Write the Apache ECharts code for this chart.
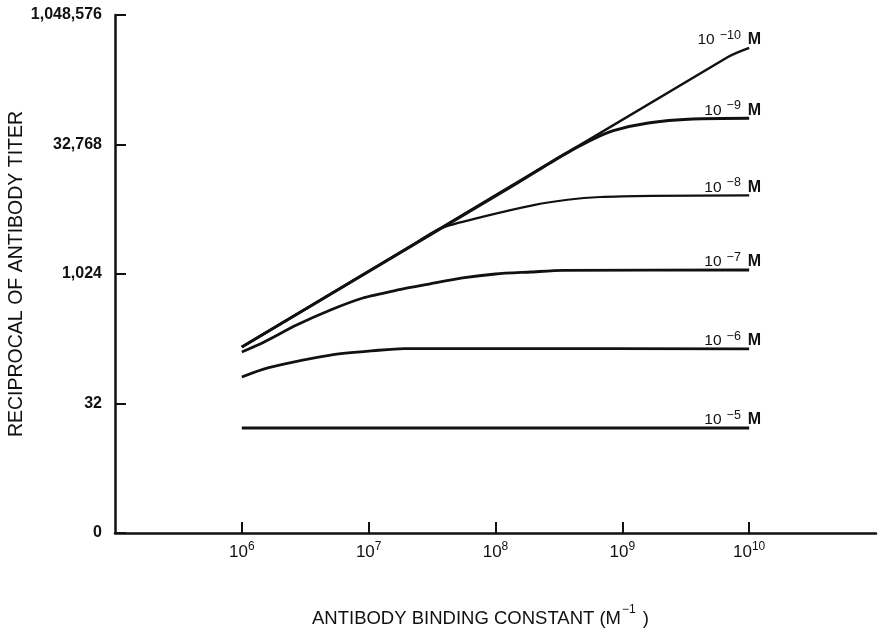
<!DOCTYPE html>
<html>
<head>
<meta charset="utf-8">
<script src="https://cdn.jsdelivr.net/npm/echarts@6/dist/echarts.min.js"></script>
<style>
  html, body { margin: 0; padding: 0; background: #fff; }
  #main { width: 878px; height: 631px; }
</style>
</head>
<body>
<div id="main"></div>
<script>
// antigen concentration of each curve (exponent of 10, M)
const concExp = ['−10', '−9', '−8', '−7', '−6', '−5'];

// [antibody binding constant (M^-1), reciprocal of antibody titer]
const curveM10 = [[1e6, 145], [6.8e9, 341000], [1e10, 435000]];
const curveM9 = [[1e6, 145], [1.5e8, 11800], [3.2e8, 23400], [5.6e8, 36500], [8.5e8, 47500], [1.6e9, 58300], [3.6e9, 64700], [1e10, 66000]];
const curveM8 = [[1e6, 145], [2e7, 2020], [3.66e7, 3450], [8e7, 4750], [2e8, 6480], [3.7e8, 7470], [6.7e8, 8040], [1.7e9, 8300], [1e10, 8400]];
const curveM7 = [[1e6, 127], [1.5e6, 166], [2.7e6, 261], [5e6, 391], [9e6, 539], [1.7e7, 668], [3e7, 783], [5.5e7, 921], [1e8, 1024], [1.9e8, 1080], [3.4e8, 1130], [1e10, 1140]];
const curveM6 = [[1e6, 65], [1.6e6, 83], [5e6, 117], [1.2e7, 133], [1.9e7, 139], [1e8, 139], [1e10, 138]];
const curveM5 = [[1e6, 16.6], [1e10, 16.6]];

// axis ticks
const xTicks = [1e6, 1e7, 1e8, 1e9, 1e10];
const yTickText = ['0', '32', '1,024', '32,768', '1,048,576'];

const curves = [curveM10, curveM9, curveM8, curveM7, curveM6, curveM5];
const lineWidths = [2.5, 3, 2.2, 2.8, 2.8, 3.2];
const font = 'Liberation Sans, Arial, Helvetica, sans-serif';
const ink = '#111';

const chart = echarts.init(document.getElementById('main'));

const series = curves.map((pts, i) => ({
  name: '10' + concExp[i] + ' M',
  type: 'line',
  data: pts,
  smooth: 0.25,
  symbol: 'none',
  lineStyle: { color: ink, width: lineWidths[i] },
  endLabel: {
    show: true,
    formatter: '{n|10}{e|' + concExp[i] + '}{m|M}',
    align: 'right',
    verticalAlign: 'bottom',
    distance: 12,
    rich: {
      n: { fontFamily: font, fontSize: 15.5, color: ink, verticalAlign: 'bottom', lineHeight: 19 },
      e: { fontFamily: font, fontSize: 12.5, color: ink, verticalAlign: 'top', lineHeight: 13, padding: [0, 7, 0, 5] },
      m: { fontFamily: font, fontSize: 16, fontWeight: 'bold', color: ink, verticalAlign: 'bottom', lineHeight: 18 }
    }
  }
}));

chart.setOption({
  animation: false,
  backgroundColor: '#fff',
  grid: { left: 115, right: 2, top: 15, bottom: 98, outerBoundsMode: 'none', containLabel: false },
  xAxis: {
    type: 'log',
    logBase: 10,
    min: 1e5,
    max: 1e11,
    interval: 1,
    name: '{a|ANTIBODY BINDING CONSTANT (M}{s|−1}{a| )}',
    nameLocation: 'middle',
    nameGap: 71,
    nameMoveOverlap: false,
    nameTextStyle: {
      padding: [0, 30, 0, 0],
      rich: {
        a: { fontFamily: font, fontSize: 18.5, color: ink, verticalAlign: 'bottom', lineHeight: 24 },
        s: { fontFamily: font, fontSize: 12, color: ink, verticalAlign: 'top', lineHeight: 12, padding: [0, 2, 0, 1] }
      }
    },
    axisLine: { lineStyle: { color: ink, width: 2.5 } },
    axisTick: { inside: true, length: 11, customValues: xTicks, lineStyle: { color: ink, width: 2 } },
    axisLabel: {
      customValues: xTicks,
      margin: 8,
      formatter: v => '{b|10}{s|' + Math.round(Math.log10(v)) + '}',
      rich: {
        b: { fontFamily: font, fontSize: 17, color: ink, verticalAlign: 'bottom', lineHeight: 20 },
        s: { fontFamily: font, fontSize: 12, color: ink, verticalAlign: 'top', lineHeight: 12 }
      }
    },
    splitLine: { show: false }
  },
  yAxis: {
    type: 'log',
    logBase: 2,
    min: 1,
    max: 1048576,
    interval: 5,
    name: 'RECIPROCAL OF ANTIBODY TITER',
    nameLocation: 'middle',
    nameGap: 88,
    nameMoveOverlap: false,
    nameTextStyle: { fontFamily: font, fontSize: 19.5, color: ink },
    axisLine: { show: true, lineStyle: { color: ink, width: 2.5 } },
    axisTick: { show: true, inside: true, length: 11, lineStyle: { color: ink, width: 2 } },
    axisLabel: {
      margin: 13,
      fontFamily: font,
      fontSize: 16,
      fontWeight: 'bold',
      color: ink,
      formatter: v => yTickText[Math.round(Math.log2(v) / 5)]
    },
    splitLine: { show: false }
  },
  series: series
});
</script>
</body>
</html>
